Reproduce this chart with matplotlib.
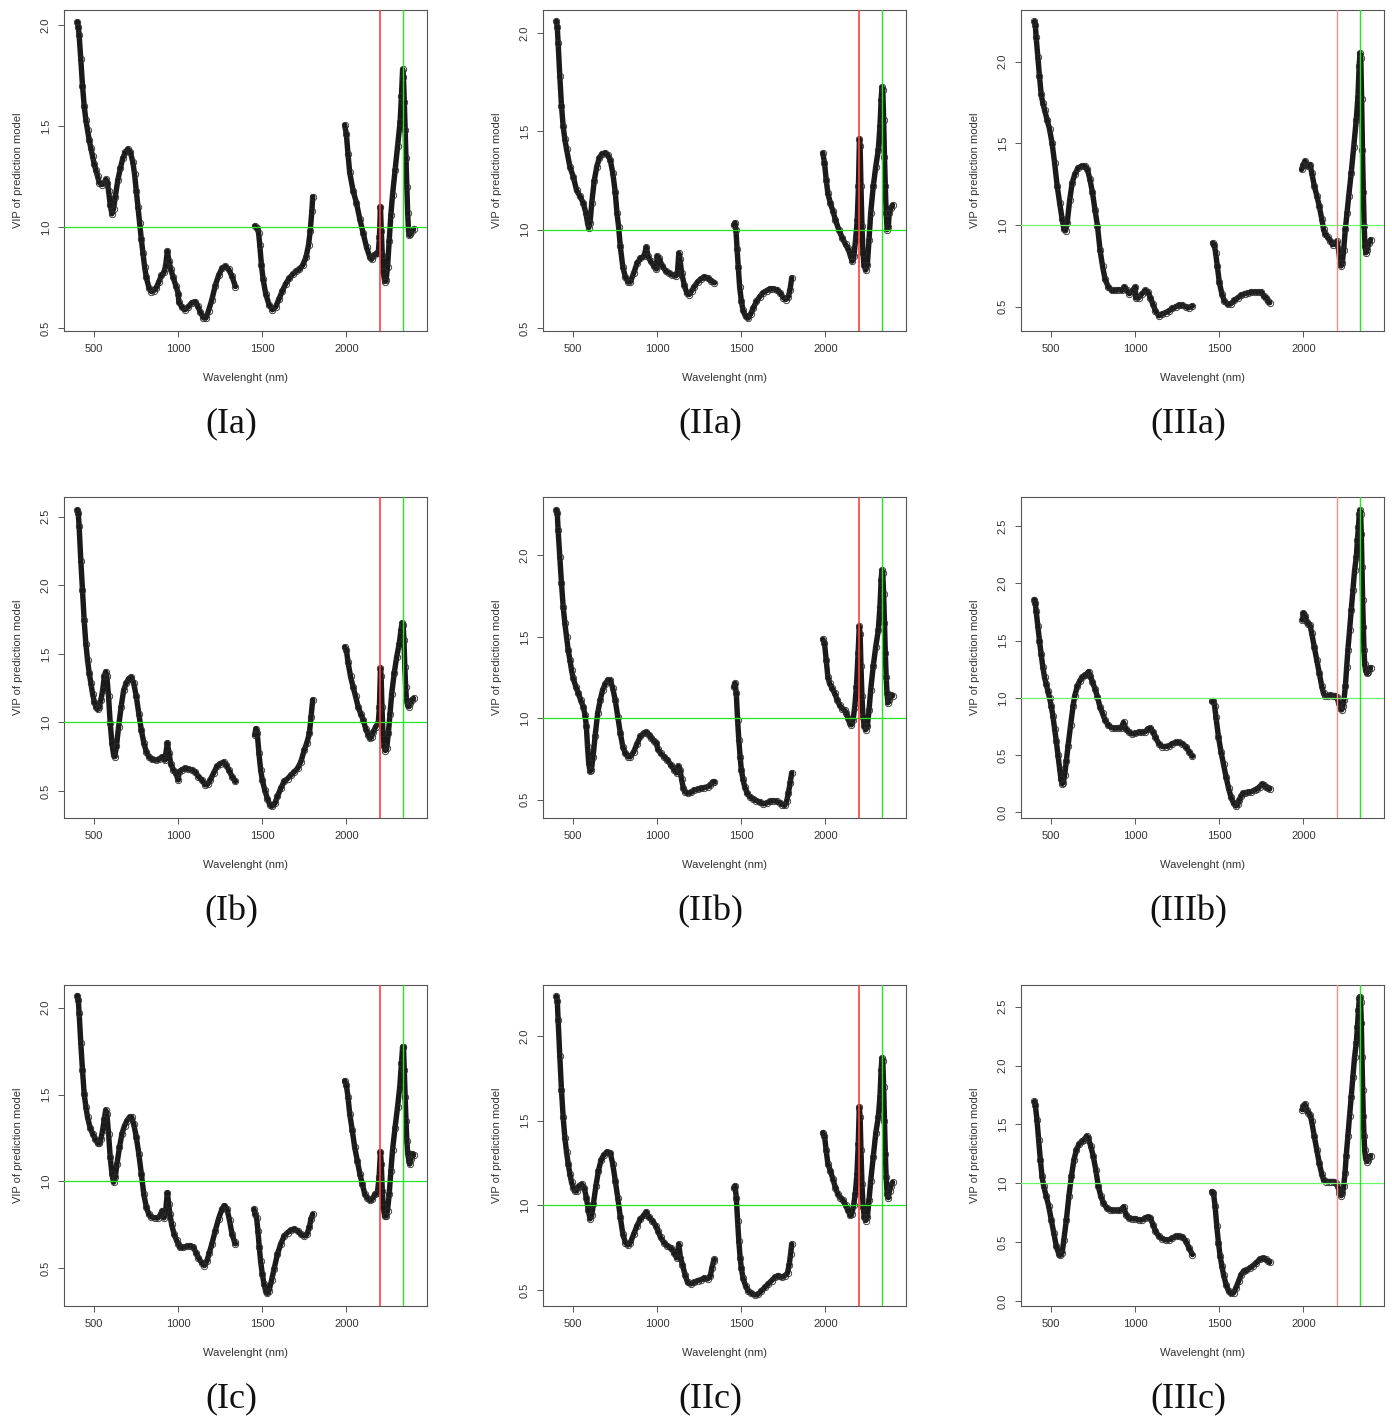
import numpy as np
import matplotlib
matplotlib.use("Agg")
import matplotlib.pyplot as plt

# ---------------- data (wavelength nm, VIP) ----------------
IA = [(400,2.015),(405,1.99),(410,1.95),(420,1.83),(430,1.70),(440,1.60),(450,1.53),(460,1.48),(470,1.43),(480,1.39),(490,1.35),(500,1.31),(510,1.28),(520,1.25),(530,1.22),(545,1.21),(560,1.22),(570,1.235),(578,1.22),(585,1.18),(595,1.11),(605,1.065),(615,1.09),(625,1.15),(640,1.23),(655,1.29),(670,1.34),(685,1.37),(700,1.385),(715,1.37),(730,1.32),(740,1.26),(750,1.18),(760,1.10),(770,1.02),(780,0.94),(790,0.87),(800,0.80),(810,0.75),(825,0.70),(840,0.68),(855,0.685),(870,0.70),(885,0.73),(900,0.76),(915,0.775),(925,0.81),(935,0.88),(945,0.83),(955,0.79),(970,0.75),(985,0.71),(1000,0.67),(1003,0.63),(1020,0.605),(1040,0.59),(1060,0.605),(1080,0.625),(1100,0.63),(1115,0.61),(1130,0.58),(1150,0.55),(1165,0.55),(1180,0.585),(1200,0.64),(1220,0.71),(1240,0.76),(1260,0.795),(1280,0.805),(1300,0.79),(1320,0.755),(1340,0.705),
      (1455,1.005),(1470,0.995),(1478,0.97),(1485,0.91),(1495,0.81),(1505,0.74),(1520,0.67),(1540,0.615),(1560,0.59),(1580,0.605),(1600,0.645),(1620,0.685),(1640,0.72),(1660,0.745),(1680,0.765),(1700,0.78),(1720,0.79),(1740,0.81),(1760,0.85),(1775,0.91),(1785,0.98),(1795,1.08),(1800,1.15),
      (1990,1.505),(2000,1.46),(2010,1.36),(2020,1.27),(2040,1.18),(2060,1.12),(2080,1.04),(2100,0.97),(2120,0.90),(2140,0.85),(2150,0.84),(2165,0.86),(2180,0.87),(2190,0.87),(2197,0.95),(2203,1.10),(2208,0.98),(2214,0.86),(2220,0.78),(2228,0.73),(2236,0.735),(2245,0.80),(2255,0.93),(2265,1.06),(2275,1.16),(2290,1.28),(2305,1.40),(2320,1.52),(2328,1.65),(2335,1.78),(2340,1.74),(2345,1.62),(2350,1.48),(2355,1.34),(2360,1.20),(2365,1.07),(2370,0.98),(2375,0.96),(2380,0.965),(2390,0.98),(2400,0.99)]

IIA = [(400,2.06),(405,2.03),(410,1.95),(420,1.78),(430,1.63),(440,1.525),(450,1.46),(460,1.41),(480,1.32),(500,1.27),(520,1.20),(540,1.17),(560,1.135),(575,1.085),(585,1.035),(592,1.01),(600,1.035),(610,1.135),(625,1.25),(640,1.32),(655,1.365),(670,1.385),(690,1.39),(705,1.38),(720,1.355),(735,1.29),(750,1.19),(760,1.085),(770,1.015),(780,0.915),(795,0.81),(810,0.76),(825,0.735),(840,0.735),(860,0.78),(880,0.83),(900,0.855),(920,0.865),(935,0.91),(945,0.865),(960,0.84),(980,0.815),(995,0.80),(1000,0.865),(1010,0.855),(1030,0.815),(1050,0.79),(1070,0.78),(1090,0.77),(1110,0.765),(1120,0.78),(1128,0.88),(1135,0.85),(1145,0.78),(1160,0.72),(1175,0.68),(1190,0.67),(1205,0.69),(1220,0.71),(1240,0.735),(1260,0.75),(1280,0.76),(1300,0.755),(1320,0.74),(1340,0.73),
       (1455,1.025),(1462,1.035),(1468,1.00),(1475,0.90),(1482,0.81),(1490,0.71),(1500,0.64),(1510,0.59),(1525,0.56),(1540,0.55),(1555,0.57),(1570,0.60),(1590,0.635),(1610,0.66),(1630,0.68),(1650,0.69),(1670,0.70),(1690,0.70),(1710,0.695),(1730,0.68),(1750,0.655),(1765,0.645),(1780,0.66),(1790,0.695),(1800,0.755),
       (1985,1.39),(1995,1.34),(2005,1.255),(2015,1.185),(2030,1.135),(2045,1.095),(2060,1.05),(2080,1.00),(2100,0.96),(2120,0.925),(2135,0.905),(2150,0.865),(2160,0.84),(2170,0.865),(2180,0.95),(2190,1.05),(2197,1.22),(2203,1.46),(2207,1.425),(2212,1.22),(2218,1.02),(2224,0.88),(2230,0.82),(2240,0.795),(2250,0.82),(2260,0.95),(2270,1.085),(2285,1.22),(2300,1.32),(2315,1.405),(2325,1.525),(2332,1.66),(2337,1.725),(2342,1.71),(2347,1.56),(2352,1.37),(2357,1.22),(2362,1.085),(2368,1.00),(2375,1.015),(2380,1.085),(2390,1.11),(2400,1.125)]

IIIA = [(400,2.245),(405,2.225),(410,2.15),(420,2.03),(430,1.91),(440,1.80),(450,1.745),(460,1.705),(475,1.645),(490,1.585),(505,1.50),(520,1.38),(535,1.24),(550,1.135),(565,1.035),(575,0.975),(585,0.965),(595,1.015),(610,1.155),(625,1.26),(640,1.31),(660,1.35),(680,1.36),(700,1.36),(715,1.34),(730,1.28),(745,1.20),(760,1.095),(775,0.995),(790,0.85),(805,0.75),(820,0.67),(840,0.62),(860,0.60),(880,0.60),(900,0.605),(920,0.60),(935,0.62),(950,0.60),(965,0.58),(985,0.60),(1000,0.62),(1003,0.555),(1020,0.555),(1040,0.58),(1060,0.60),(1075,0.59),(1090,0.555),(1105,0.515),(1120,0.475),(1140,0.445),(1160,0.455),(1180,0.465),(1200,0.475),(1220,0.49),(1240,0.50),(1260,0.51),(1280,0.51),(1300,0.50),(1320,0.495),(1340,0.505),
        (1460,0.89),(1470,0.88),(1478,0.83),(1488,0.75),(1500,0.65),(1515,0.58),(1530,0.535),(1550,0.515),(1570,0.52),(1590,0.54),(1610,0.555),(1630,0.57),(1650,0.58),(1670,0.585),(1690,0.59),(1710,0.59),(1730,0.59),(1750,0.59),(1765,0.565),(1780,0.555),(1790,0.535),(1800,0.525),
        (1990,1.34),(2000,1.37),(2010,1.39),(2020,1.37),(2030,1.36),(2040,1.37),(2050,1.32),(2065,1.24),(2080,1.18),(2095,1.115),(2110,1.035),(2120,0.975),(2130,0.945),(2145,0.925),(2160,0.905),(2175,0.88),(2190,0.89),(2200,0.90),(2210,0.85),(2218,0.77),(2225,0.75),(2232,0.77),(2240,0.85),(2250,0.975),(2260,1.075),(2270,1.175),(2285,1.32),(2300,1.48),(2315,1.645),(2325,1.785),(2332,1.97),(2337,2.05),(2342,2.02),(2347,1.77),(2352,1.46),(2357,1.20),(2362,0.995),(2367,0.87),(2372,0.83),(2380,0.85),(2390,0.89),(2400,0.91)]

IB = [(400,2.55),(405,2.525),(410,2.43),(420,2.18),(430,1.965),(440,1.745),(450,1.575),(460,1.455),(470,1.36),(480,1.285),(490,1.21),(500,1.15),(510,1.115),(520,1.095),(530,1.115),(540,1.165),(550,1.235),(560,1.335),(568,1.37),(575,1.335),(585,1.19),(595,0.995),(605,0.85),(615,0.765),(622,0.75),(632,0.825),(645,0.97),(660,1.115),(675,1.235),(690,1.285),(705,1.32),(720,1.33),(735,1.285),(750,1.19),(765,1.065),(780,0.945),(795,0.85),(810,0.785),(825,0.75),(845,0.73),(865,0.725),(885,0.73),(905,0.75),(920,0.725),(935,0.85),(945,0.775),(955,0.70),(970,0.655),(985,0.63),(1000,0.58),(1003,0.64),(1020,0.655),(1040,0.665),(1060,0.66),(1080,0.655),(1100,0.64),(1120,0.605),(1140,0.58),(1160,0.545),(1175,0.55),(1190,0.58),(1210,0.63),(1230,0.68),(1250,0.70),(1270,0.71),(1285,0.69),(1300,0.655),(1320,0.605),(1340,0.57),
      (1455,0.91),(1462,0.955),(1470,0.92),(1480,0.775),(1490,0.655),(1500,0.58),(1515,0.505),(1530,0.445),(1545,0.40),(1560,0.39),(1575,0.41),(1590,0.46),(1610,0.52),(1630,0.57),(1650,0.59),(1670,0.615),(1690,0.64),(1710,0.665),(1730,0.715),(1750,0.80),(1765,0.85),(1780,0.92),(1790,1.04),(1800,1.165),
      (1990,1.55),(2000,1.53),(2010,1.44),(2025,1.335),(2040,1.26),(2055,1.19),(2070,1.115),(2085,1.065),(2100,1.02),(2115,0.955),(2130,0.91),(2140,0.885),(2150,0.895),(2160,0.93),(2175,0.97),(2190,0.995),(2197,1.115),(2203,1.395),(2207,1.335),(2212,1.115),(2218,0.92),(2225,0.825),(2232,0.795),(2240,0.81),(2250,0.92),(2260,1.065),(2270,1.21),(2285,1.36),(2300,1.48),(2315,1.575),(2325,1.675),(2332,1.725),(2338,1.71),(2343,1.60),(2348,1.405),(2353,1.26),(2358,1.165),(2365,1.125),(2372,1.115),(2380,1.14),(2390,1.165),(2400,1.175)]

IIB = [(400,2.28),(405,2.26),(410,2.155),(420,1.99),(430,1.83),(440,1.685),(450,1.585),(460,1.50),(470,1.42),(480,1.36),(490,1.295),(500,1.245),(515,1.195),(530,1.155),(545,1.11),(560,1.07),(570,1.02),(578,0.95),(585,0.825),(592,0.725),(600,0.675),(608,0.685),(618,0.765),(630,0.89),(645,1.03),(660,1.11),(675,1.175),(690,1.21),(705,1.235),(720,1.235),(735,1.185),(750,1.11),(765,1.01),(780,0.91),(795,0.825),(810,0.785),(825,0.765),(840,0.765),(860,0.795),(880,0.845),(900,0.89),(920,0.91),(935,0.915),(950,0.90),(965,0.88),(980,0.86),(995,0.85),(1003,0.81),(1020,0.785),(1040,0.765),(1060,0.745),(1080,0.715),(1100,0.685),(1115,0.665),(1125,0.705),(1135,0.685),(1145,0.625),(1155,0.57),(1165,0.55),(1180,0.54),(1200,0.545),(1220,0.56),(1240,0.565),(1260,0.57),(1280,0.575),(1300,0.58),(1315,0.59),(1330,0.61),(1340,0.61),
       (1455,1.195),(1463,1.215),(1470,1.155),(1478,0.99),(1485,0.87),(1493,0.765),(1500,0.685),(1510,0.625),(1520,0.58),(1535,0.54),(1550,0.52),(1570,0.505),(1590,0.495),(1610,0.485),(1630,0.475),(1650,0.48),(1670,0.49),(1690,0.495),(1710,0.49),(1730,0.48),(1745,0.47),(1758,0.465),(1770,0.49),(1780,0.54),(1790,0.60),(1800,0.665),
       (1985,1.485),(1995,1.46),(2005,1.36),(2015,1.255),(2025,1.215),(2040,1.185),(2055,1.155),(2070,1.115),(2085,1.08),(2100,1.06),(2115,1.05),(2125,1.03),(2135,1.00),(2145,0.97),(2155,0.96),(2165,0.99),(2175,1.07),(2185,1.195),(2195,1.40),(2202,1.565),(2207,1.52),(2212,1.32),(2218,1.135),(2224,1.01),(2232,0.95),(2240,0.93),(2250,0.95),(2260,1.05),(2270,1.175),(2285,1.32),(2300,1.44),(2315,1.54),(2325,1.685),(2332,1.85),(2337,1.91),(2342,1.89),(2347,1.765),(2352,1.585),(2357,1.40),(2362,1.255),(2367,1.155),(2372,1.095),(2380,1.115),(2390,1.145),(2400,1.14)]

IIIB = [(400,1.86),(405,1.83),(410,1.76),(420,1.63),(430,1.50),(440,1.38),(450,1.27),(460,1.18),(470,1.12),(480,1.06),(490,1.00),(500,0.93),(510,0.84),(520,0.73),(530,0.62),(540,0.50),(550,0.38),(558,0.29),(565,0.25),(572,0.26),(580,0.33),(590,0.45),(600,0.58),(615,0.76),(630,0.93),(640,1.02),(655,1.10),(670,1.15),(685,1.18),(700,1.20),(712,1.21),(722,1.23),(732,1.19),(745,1.14),(760,1.08),(775,1.01),(790,0.92),(805,0.865),(820,0.805),(840,0.76),(860,0.74),(880,0.735),(900,0.74),(915,0.735),(930,0.785),(945,0.725),(960,0.705),(980,0.685),(1000,0.69),(1020,0.70),(1040,0.70),(1060,0.705),(1075,0.73),(1090,0.735),(1105,0.705),(1120,0.655),(1140,0.60),(1160,0.575),(1180,0.575),(1200,0.58),(1220,0.60),(1240,0.61),(1260,0.61),(1280,0.60),(1300,0.575),(1320,0.53),(1340,0.49),
        (1455,0.97),(1465,0.975),(1472,0.93),(1480,0.83),(1495,0.66),(1510,0.53),(1525,0.42),(1540,0.31),(1555,0.21),(1570,0.13),(1585,0.08),(1600,0.055),(1610,0.07),(1620,0.11),(1630,0.14),(1640,0.165),(1655,0.17),(1670,0.175),(1690,0.18),(1710,0.195),(1725,0.205),(1740,0.225),(1755,0.245),(1765,0.235),(1775,0.22),(1790,0.215),(1800,0.205),
        (1995,1.68),(2000,1.74),(2010,1.72),(2020,1.665),(2030,1.65),(2040,1.635),(2050,1.565),(2065,1.445),(2080,1.33),(2095,1.215),(2110,1.10),(2120,1.04),(2130,1.02),(2145,1.02),(2160,1.025),(2175,1.02),(2190,1.02),(2200,1.01),(2210,0.955),(2220,0.91),(2228,0.895),(2235,0.925),(2242,0.985),(2250,1.10),(2258,1.27),(2265,1.415),(2275,1.59),(2285,1.765),(2295,1.94),(2305,2.115),(2315,2.23),(2322,2.38),(2328,2.495),(2333,2.61),(2337,2.64),(2341,2.61),(2345,2.435),(2349,2.145),(2353,1.855),(2357,1.62),(2361,1.415),(2365,1.30),(2370,1.245),(2378,1.215),(2385,1.23),(2392,1.25),(2400,1.265)]

IC = [(400,2.07),(405,2.045),(410,1.97),(420,1.795),(430,1.64),(440,1.505),(450,1.43),(460,1.37),(475,1.31),(490,1.275),(505,1.245),(520,1.22),(530,1.22),(540,1.245),(550,1.295),(560,1.36),(568,1.41),(575,1.39),(585,1.275),(595,1.14),(605,1.045),(615,0.995),(625,1.025),(635,1.10),(650,1.195),(665,1.275),(680,1.32),(695,1.35),(710,1.37),(722,1.37),(735,1.33),(750,1.255),(765,1.16),(780,1.045),(795,0.925),(810,0.85),(825,0.81),(840,0.795),(860,0.79),(880,0.79),(895,0.81),(905,0.83),(915,0.79),(925,0.83),(935,0.935),(943,0.87),(950,0.81),(960,0.755),(975,0.695),(990,0.66),(1000,0.64),(1010,0.62),(1030,0.62),(1050,0.625),(1070,0.63),(1090,0.62),(1105,0.59),(1120,0.56),(1140,0.53),(1155,0.515),(1170,0.54),(1185,0.59),(1200,0.64),(1220,0.715),(1240,0.785),(1260,0.84),(1275,0.86),(1290,0.84),(1305,0.775),(1320,0.695),(1335,0.65),(1340,0.64),
      (1450,0.84),(1458,0.81),(1466,0.79),(1474,0.715),(1482,0.62),(1490,0.54),(1500,0.465),(1510,0.41),(1520,0.37),(1530,0.355),(1540,0.37),(1555,0.43),(1570,0.495),(1590,0.58),(1610,0.64),(1630,0.685),(1650,0.705),(1670,0.72),(1690,0.725),(1710,0.715),(1730,0.695),(1750,0.685),(1765,0.695),(1780,0.735),(1790,0.785),(1800,0.81),
      (1990,1.58),(2000,1.555),(2010,1.485),(2020,1.39),(2035,1.295),(2050,1.195),(2065,1.12),(2080,1.045),(2095,0.985),(2110,0.925),(2125,0.905),(2140,0.89),(2155,0.90),(2170,0.925),(2185,0.935),(2195,1.025),(2203,1.17),(2208,1.10),(2214,0.945),(2220,0.85),(2228,0.80),(2236,0.80),(2245,0.83),(2255,0.925),(2265,1.06),(2275,1.18),(2290,1.31),(2305,1.43),(2318,1.545),(2328,1.68),(2335,1.775),(2340,1.775),(2345,1.64),(2350,1.485),(2355,1.35),(2360,1.235),(2365,1.165),(2372,1.12),(2378,1.10),(2385,1.13),(2392,1.16),(2400,1.15)]

IIC = [(400,2.235),(405,2.21),(410,2.095),(420,1.88),(430,1.68),(440,1.52),(450,1.40),(460,1.315),(470,1.245),(480,1.185),(490,1.135),(500,1.105),(510,1.085),(520,1.085),(535,1.115),(550,1.125),(565,1.105),(578,1.045),(590,0.97),(600,0.92),(610,0.94),(620,1.01),(635,1.115),(650,1.205),(665,1.265),(680,1.295),(700,1.315),(720,1.31),(735,1.245),(750,1.145),(765,1.045),(780,0.93),(795,0.83),(810,0.78),(825,0.765),(840,0.78),(860,0.83),(880,0.88),(900,0.92),(920,0.94),(935,0.96),(950,0.93),(970,0.91),(990,0.88),(1003,0.85),(1020,0.81),(1040,0.78),(1060,0.76),(1080,0.75),(1100,0.72),(1115,0.69),(1128,0.77),(1138,0.69),(1150,0.65),(1165,0.59),(1180,0.545),(1200,0.535),(1220,0.545),(1240,0.555),(1260,0.56),(1280,0.57),(1300,0.565),(1315,0.58),(1325,0.63),(1335,0.67),(1340,0.68),
       (1455,1.105),(1463,1.115),(1470,1.045),(1478,0.91),(1485,0.79),(1493,0.69),(1500,0.63),(1510,0.57),(1525,0.525),(1540,0.495),(1560,0.48),(1580,0.47),(1600,0.475),(1620,0.495),(1640,0.515),(1660,0.535),(1680,0.555),(1700,0.575),(1720,0.585),(1740,0.575),(1760,0.585),(1775,0.60),(1785,0.65),(1793,0.71),(1800,0.77),
       (1985,1.43),(1995,1.41),(2005,1.325),(2015,1.245),(2030,1.205),(2045,1.155),(2060,1.105),(2075,1.065),(2090,1.045),(2105,1.03),(2120,1.00),(2135,0.97),(2148,0.94),(2158,0.95),(2168,1.00),(2178,1.065),(2188,1.185),(2196,1.365),(2202,1.58),(2207,1.52),(2212,1.325),(2218,1.125),(2225,0.99),(2232,0.93),(2240,0.91),(2250,0.93),(2260,1.03),(2270,1.145),(2285,1.285),(2300,1.425),(2315,1.52),(2325,1.64),(2332,1.80),(2337,1.87),(2342,1.85),(2347,1.70),(2352,1.50),(2357,1.305),(2362,1.165),(2368,1.065),(2375,1.045),(2382,1.085),(2390,1.115),(2400,1.135)]

IIIC = [(400,1.695),(405,1.665),(415,1.54),(425,1.37),(435,1.20),(445,1.06),(455,0.975),(470,0.89),(485,0.805),(500,0.69),(515,0.58),(530,0.465),(545,0.40),(555,0.39),(565,0.41),(575,0.52),(590,0.69),(605,0.89),(620,1.06),(635,1.20),(650,1.285),(665,1.33),(680,1.355),(695,1.37),(710,1.40),(720,1.385),(735,1.315),(750,1.23),(765,1.115),(780,0.975),(795,0.89),(810,0.835),(830,0.79),(850,0.775),(870,0.77),(890,0.77),(910,0.77),(930,0.80),(945,0.735),(960,0.705),(980,0.70),(1000,0.70),(1020,0.69),(1040,0.69),(1060,0.705),(1075,0.715),(1090,0.705),(1105,0.65),(1120,0.595),(1140,0.55),(1160,0.53),(1180,0.52),(1200,0.52),(1220,0.535),(1240,0.55),(1260,0.55),(1280,0.545),(1300,0.51),(1320,0.45),(1340,0.395),
        (1455,0.93),(1465,0.92),(1475,0.805),(1485,0.635),(1495,0.495),(1505,0.38),(1515,0.30),(1525,0.225),(1540,0.14),(1555,0.085),(1570,0.065),(1585,0.07),(1600,0.115),(1615,0.17),(1630,0.225),(1645,0.255),(1660,0.26),(1680,0.28),(1700,0.30),(1720,0.325),(1740,0.355),(1760,0.365),(1775,0.355),(1790,0.34),(1800,0.33),
        (1995,1.625),(2000,1.655),(2010,1.67),(2020,1.625),(2030,1.60),(2040,1.58),(2050,1.525),(2065,1.40),(2080,1.285),(2095,1.17),(2110,1.075),(2120,1.03),(2135,1.015),(2150,1.015),(2165,1.015),(2180,1.015),(2195,1.00),(2205,0.975),(2215,0.92),(2225,0.895),(2233,0.92),(2240,0.975),(2248,1.085),(2255,1.23),(2265,1.40),(2275,1.57),(2285,1.735),(2295,1.905),(2305,2.075),(2315,2.19),(2322,2.33),(2328,2.47),(2333,2.57),(2337,2.585),(2341,2.54),(2345,2.36),(2349,2.075),(2353,1.795),(2357,1.57),(2361,1.40),(2365,1.285),(2370,1.215),(2378,1.185),(2385,1.20),(2392,1.225),(2400,1.235)]

PANEL_DATA = [[IA, IIA, IIIA], [IB, IIB, IIIB], [IC, IIC, IIIC]]
PANEL_LABELS = [["(Ia)", "(IIa)", "(IIIa)"], ["(Ib)", "(IIb)", "(IIIb)"], ["(Ic)", "(IIc)", "(IIIc)"]]
YLIMS = [[(0.485, 2.074), (0.485, 2.117), (0.352, 2.315)],
         [(0.303, 2.644), (0.388, 2.359), (-0.05, 2.756)],
         [(0.282, 2.131), (0.405, 2.302), (-0.042, 2.684)]]
X_TICKS = [500, 1000, 1500, 2000]
THRESHOLD = 1.0
RED_WL = 2200
GREEN_WL = 2335

# ---------------- layout ----------------
W, H = 1392, 1417
fig = plt.figure(figsize=(W / 100, H / 100), dpi=100)
col_left = [64, 543, 1021]
row_top = [10, 497, 985]
aw, ah = 363, 321
lab_x = [231, 710, 1188]
lab_y = [424, 912, 1399]

sans = ["Liberation Sans", "DejaVu Sans"]
frame_col = "#555555"

for r in range(3):
    for c in range(3):
        ax = fig.add_axes([col_left[c] / W, 1 - (row_top[r] + ah) / H, aw / W, ah / H])
        data = PANEL_DATA[r][c]
        wl = np.array([p[0] for p in data], dtype=float)
        vip = np.array([p[1] for p in data], dtype=float)
        breaks = np.where(np.diff(wl) > 50)[0] + 1
        for seg_wl, seg_v in zip(np.split(wl, breaks), np.split(vip, breaks)):
            ax.plot(seg_wl, seg_v, color="#1a1a1a", lw=3.9, solid_capstyle="round",
                    solid_joinstyle="round", zorder=2)
            ax.plot(seg_wl, seg_v, ls="none", marker="o", ms=4.6, mfc="none",
                    mec="#2a2a2a", mew=0.6, zorder=3)
        light = (c == 2)
        ax.axhline(THRESHOLD, color="#6cf56c" if light else "#22e622", lw=0.9, zorder=4)
        ax.axvline(RED_WL, color="#ff8a8a" if light else "#ff4040", lw=1.0 if light else 1.2, zorder=4)
        ax.axvline(GREEN_WL, color="#22e622", lw=1.0, zorder=4)

        ax.set_xlim(320, 2480)
        ax.set_ylim(*YLIMS[r][c])
        ax.set_xticks(X_TICKS)
        lo, hi = YLIMS[r][c]
        yt = np.arange(np.ceil(lo / 0.5) * 0.5, hi + 1e-9, 0.5)
        ax.set_yticks(yt)
        ax.set_yticklabels([f"{abs(v) if abs(v) < 1e-9 else v:.1f}" for v in yt])
        for s in ax.spines.values():
            s.set_color(frame_col)
            s.set_linewidth(0.8)
        ax.tick_params(axis="both", direction="out", length=4.5, width=0.7,
                       color=frame_col, labelsize=8, labelcolor="#333333", pad=5)
        for lbl in ax.get_xticklabels():
            lbl.set_fontfamily(sans)
        for lbl in ax.get_yticklabels():
            lbl.set_fontfamily(sans)
            lbl.set_rotation(90)
            lbl.set_va("center")
            lbl.set_ha("right")
        ax.set_xlabel("Wavelenght (nm)", fontsize=8, color="#333333", family=sans)
        ax.set_ylabel("VIP of prediction model", fontsize=8, color="#333333", family=sans)
        ax.xaxis.set_label_coords(0.5, -42 / ah)
        ax.yaxis.set_label_coords(-41 / aw, 0.5)

        fig.text(lab_x[c] / W, 1 - lab_y[r] / H, PANEL_LABELS[r][c], ha="center", va="center",
                 fontsize=26, family=["Liberation Serif", "DejaVu Serif"], color="#111111")

fig.savefig("out.png", dpi=100, facecolor="white")
